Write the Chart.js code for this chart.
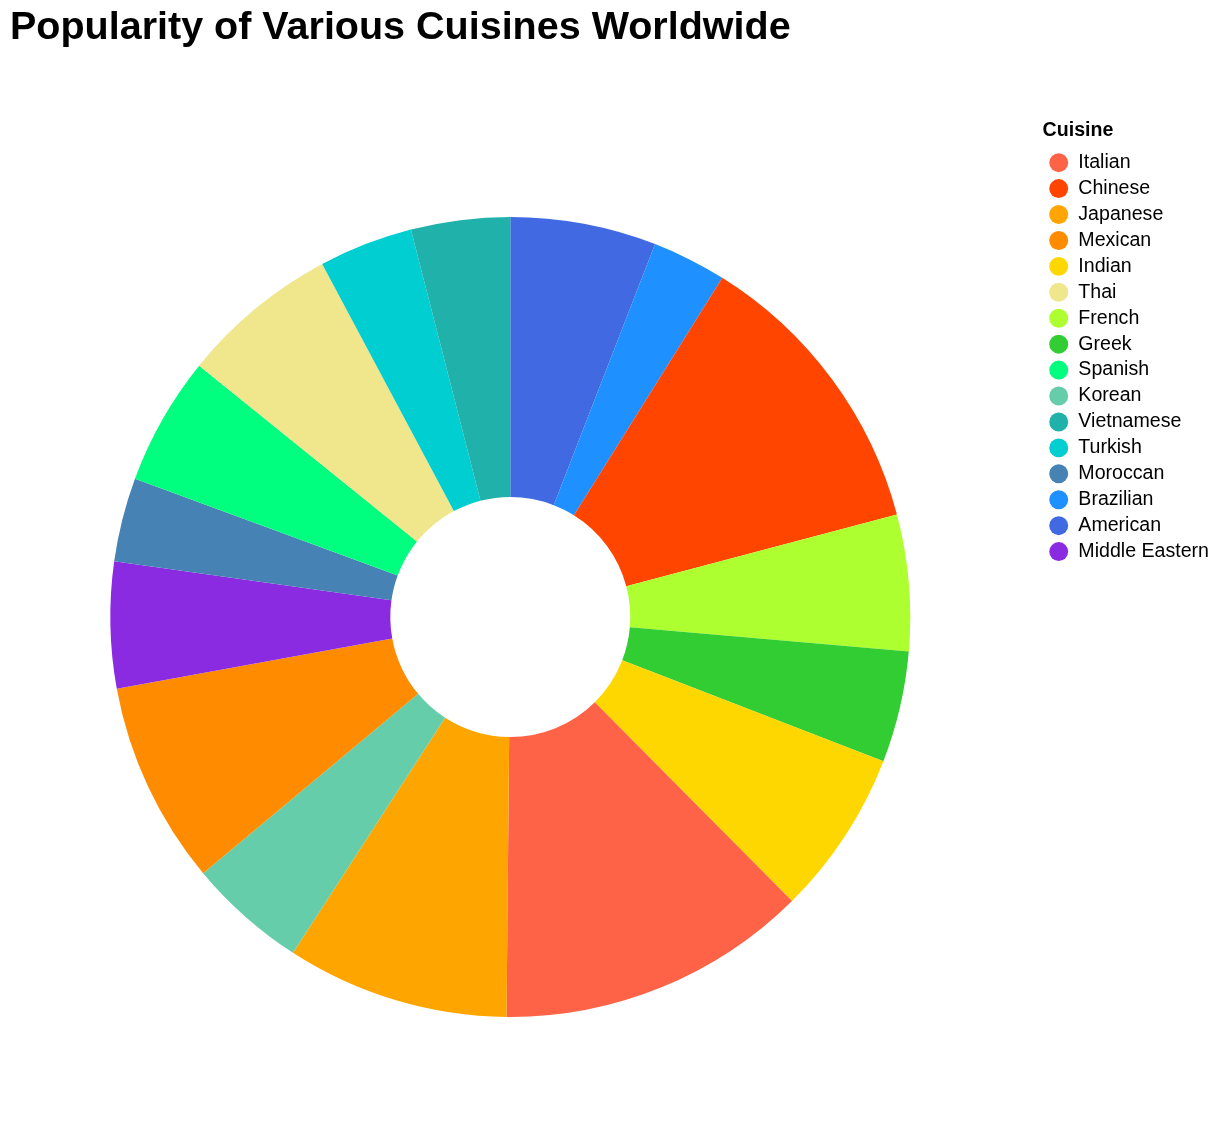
<!DOCTYPE html>
<html>
<head>
  <title>Popularity of Various Cuisines Worldwide</title>
  <script src="https://cdn.jsdelivr.net/npm/chart.js"></script>
  <style>
    body { margin: 0; background: #fff; }
    #wrap { width: 1222px; height: 1128px; }
  </style>
</head>
<body>
  <div id="wrap"><canvas id="cuisineChart"></canvas></div>
  <script>
    // legend order (as in the source data)
    const cuisines = ['Italian', 'Chinese', 'Japanese', 'Mexican', 'Indian', 'Thai', 'French', 'Greek',
      'Spanish', 'Korean', 'Vietnamese', 'Turkish', 'Moroccan', 'Brazilian', 'American', 'Middle Eastern'];
    const popularity = [12.6, 12.0, 9.0, 8.2, 6.7, 6.4, 5.5, 4.5,
      5.2, 4.8, 4.0, 3.8, 3.4, 3.0, 5.9, 5.1];
    const colors = ['#FF6347', '#FF4500', '#FFA500', '#FF8C00', '#FFD700', '#F0E68C', '#ADFF2F', '#32CD32',
      '#00FF7F', '#66CDAA', '#20B2AA', '#00CED1', '#4682B4', '#1E90FF', '#4169E1', '#8A2BE2'];

    // slices run alphabetically, clockwise from the top
    const order = cuisines.map((c, i) => i).sort((a, b) => cuisines[a].localeCompare(cuisines[b]));

    const font = 'Liberation Sans, Arial, Helvetica, sans-serif';

    const context = document.getElementById('cuisineChart').getContext('2d');
    new Chart(context, {
      type: 'doughnut',
      data: {
        labels: order.map(i => cuisines[i]),
        datasets: [{
          data: order.map(i => popularity[i]),
          backgroundColor: order.map(i => colors[i]),
          borderWidth: 0,
          radius: 400,
          cutout: '30%'
        }]
      },
      options: {
        responsive: true,
        maintainAspectRatio: false,
        animation: false,
        layout: { padding: { left: 10, right: 3, top: 0, bottom: 0 } },
        plugins: {
          title: {
            display: true,
            text: 'Popularity of Various Cuisines Worldwide',
            align: 'start',
            color: '#000',
            font: { family: font, size: 39.5, weight: 'bold' },
            padding: { top: 4, bottom: 54.6 }
          },
          // empty box between the pie and the legend
          subtitle: {
            display: true,
            text: '',
            position: 'right',
            fullSize: false,
            weight: 500,
            font: { size: 10 },
            padding: { top: 10, bottom: 10 }
          },
          legend: {
            position: 'right',
            align: 'start',
            fullSize: false,
            title: {
              display: true,
              text: 'Cuisine',
              position: 'start',
              color: '#000',
              font: { family: font, size: 19.6, weight: 'bold' },
              padding: { top: 14.8, bottom: 2.2 }
            },
            labels: {
              usePointStyle: true,
              pointStyle: 'circle',
              boxWidth: 19.6,
              boxHeight: 13.4,
              padding: 6.33,
              color: '#000',
              font: { family: font, size: 19.6 },
              sort: (a, b) => cuisines.indexOf(a.text) - cuisines.indexOf(b.text)
            }
          },
          tooltip: { enabled: false }
        }
      }
    });
  </script>
</body>
</html>
